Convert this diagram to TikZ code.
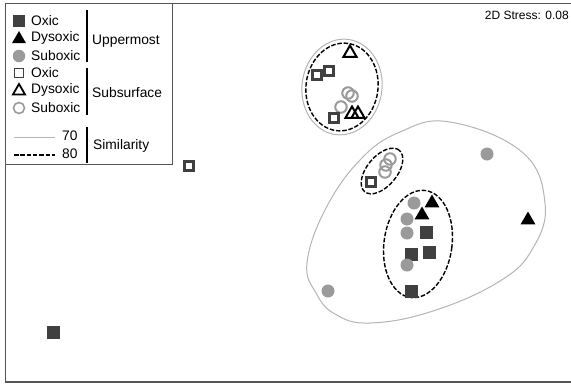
\documentclass[tikz,border=0pt]{standalone}
\usepackage{fontspec}
\setmainfont{Liberation Sans}
\usetikzlibrary{shapes.geometric}
\definecolor{sqcol}{HTML}{404040}
\definecolor{circcol}{HTML}{9A9A9A}
\definecolor{simcol}{HTML}{B4B4B4}
\definecolor{framecol}{HTML}{555555}
\tikzset{
  fsq/.style={rectangle,fill=sqcol,minimum size=13pt,inner sep=0pt},
  ftri/.style={regular polygon,regular polygon sides=3,fill=black,minimum size=17pt,inner sep=0pt},
  fcirc/.style={circle,fill=circcol,minimum size=13pt,inner sep=0pt},
  osq/.style={rectangle,draw=sqcol,line width=2.2pt,minimum size=9pt,inner sep=0pt},
  otri/.style={regular polygon,regular polygon sides=3,draw=black,line width=2pt,minimum size=15pt,inner sep=0pt},
  ocirc/.style={circle,draw=circcol,line width=2pt,minimum size=11.5pt,inner sep=0pt},
  lsq/.style={fsq,minimum size=11.5pt},
  ltri/.style={ftri,minimum size=16pt},
  lcirc/.style={fcirc,minimum size=12.5pt},
  losq/.style={osq,minimum size=9pt,line width=1.8pt},
  lotri/.style={otri,minimum size=14pt,line width=1.8pt},
  locirc/.style={ocirc,minimum size=11pt,line width=1.6pt},
  lbl/.style={anchor=west,inner sep=0pt,font=\fontsize{13.8pt}{15pt}\selectfont},
  sim70/.style={draw=simcol,line width=1pt},
  sim80/.style={draw=black,line width=1.4pt,dash pattern=on 4.5pt off 1.8pt},
  sep/.style={draw=black,line width=1.2pt},
}
\begin{document}
\begin{tikzpicture}[x=1pt,y=-1pt]
\useasboundingbox (0,0) rectangle (571,384);
% frame
\draw[framecol,line width=1.6pt] (580,3.5) -- (5.5,3.5) -- (5.5,382) -- (580,382);
% legend
\draw[framecol,line width=1pt] (5.5,3.5) rectangle (172,164);
\node[lsq] (lg1) at (19,21) {};
\node[lbl] (lt1) at (31,21) {Oxic};
\node[ltri] (lg2) at (19,39) {};
\node[lbl] (lt2) at (31,38) {Dysoxic};
\node[lcirc] (lg3) at (19,56) {};
\node[lbl] (lt3) at (31,56) {Suboxic};
\draw[sep] (87,10) -- (87,62);
\node[lbl] (lu) at (92,41) {Uppermost};
\node[losq] (lg4) at (19,73) {};
\node[lbl] (lt4) at (31,73) {Oxic};
\node[lotri] (lg5) at (19,91) {};
\node[lbl] (lt5) at (31,90) {Dysoxic};
\node[locirc] (lg6) at (19,108) {};
\node[lbl] (lt6) at (31,108) {Suboxic};
\draw[sep] (87,68) -- (87,115);
\node[lbl] (ls) at (92,93) {Subsurface};
\coordinate (a1) at (14,137); \coordinate (a2) at (55,137);
\draw[sim70] (a1) -- (a2);
\node[lbl] (n70) at (62,136) {70};
\coordinate (b1) at (14,155); \coordinate (b2) at (55,155);
\draw[sim80] (b1) -- (b2);
\node[lbl] (n80) at (62,154) {80};
\draw[sep] (87,127) -- (87,163);
\node[lbl] (lsim) at (93,146) {Similarity};
% stress
\node[anchor=east,inner sep=0pt,font=\fontsize{12pt}{14pt}\selectfont] (st) at (569,15) {2D Stress: 0.08};
% similarity contours
\draw[sim70,rotate around={-8:(342,87)}] (342,87) ellipse (40pt and 48pt);
\draw[sim80,rotate around={-8:(342,87)}] (342,87) ellipse (36pt and 44pt);
\draw[sim70] plot[smooth cycle,tension=0.7] coordinates {(307,263) (316,293) (335,314) (370,323) (433,311) (500,281) (533,248) (545,203) (522,152) (450,122) (400,132) (360,160) (325,210)};
\draw[sim80,rotate around={50:(382,171)}] (382,171) ellipse (27pt and 15pt);
\draw[sim80,rotate around={-8:(418,244)}] (418,244) ellipse (34pt and 54pt);
% upper cluster
\node[otri] (u1) at (350,53) {};
\node[osq] (u2) at (317,75) {};
\node[osq] (u3) at (329,71) {};
\node[ocirc] (u4) at (348,93) {};
\node[ocirc] (u5) at (352,96) {};
\node[ocirc] (u6) at (341,107) {};
\node[osq] (u7) at (334,118) {};
\node[otri] (u8) at (352,114) {};
\node[otri] (u9) at (358,114) {};
% small ellipse cluster
\node[ocirc] (s1) at (390,159) {};
\node[ocirc] (s2) at (386,165) {};
\node[ocirc] (s3) at (385,172) {};
\node[osq] (s4) at (371,182) {};
% lower cluster
\node[fcirc] (c1) at (414,203) {};
\node[ftri] (c2) at (432,203) {};
\node[fcirc] (c3) at (407,219) {};
\node[ftri] (c4) at (422,215) {};
\node[fcirc] (c5) at (407,233) {};
\node[fsq] (c6) at (426,232) {};
\node[fsq] (c7) at (411,254) {};
\node[fsq] (c8) at (429,252) {};
\node[fcirc] (c9) at (407,265) {};
\node[fsq] (c10) at (411,291) {};
% outliers
\node[fcirc] (o1) at (487,154) {};
\node[ftri] (o2) at (528,220) {};
\node[fcirc] (o3) at (328,291) {};
\node[osq] (o4) at (189,166) {};
\node[fsq] (o5) at (53,332) {};
\end{tikzpicture}
\end{document}
